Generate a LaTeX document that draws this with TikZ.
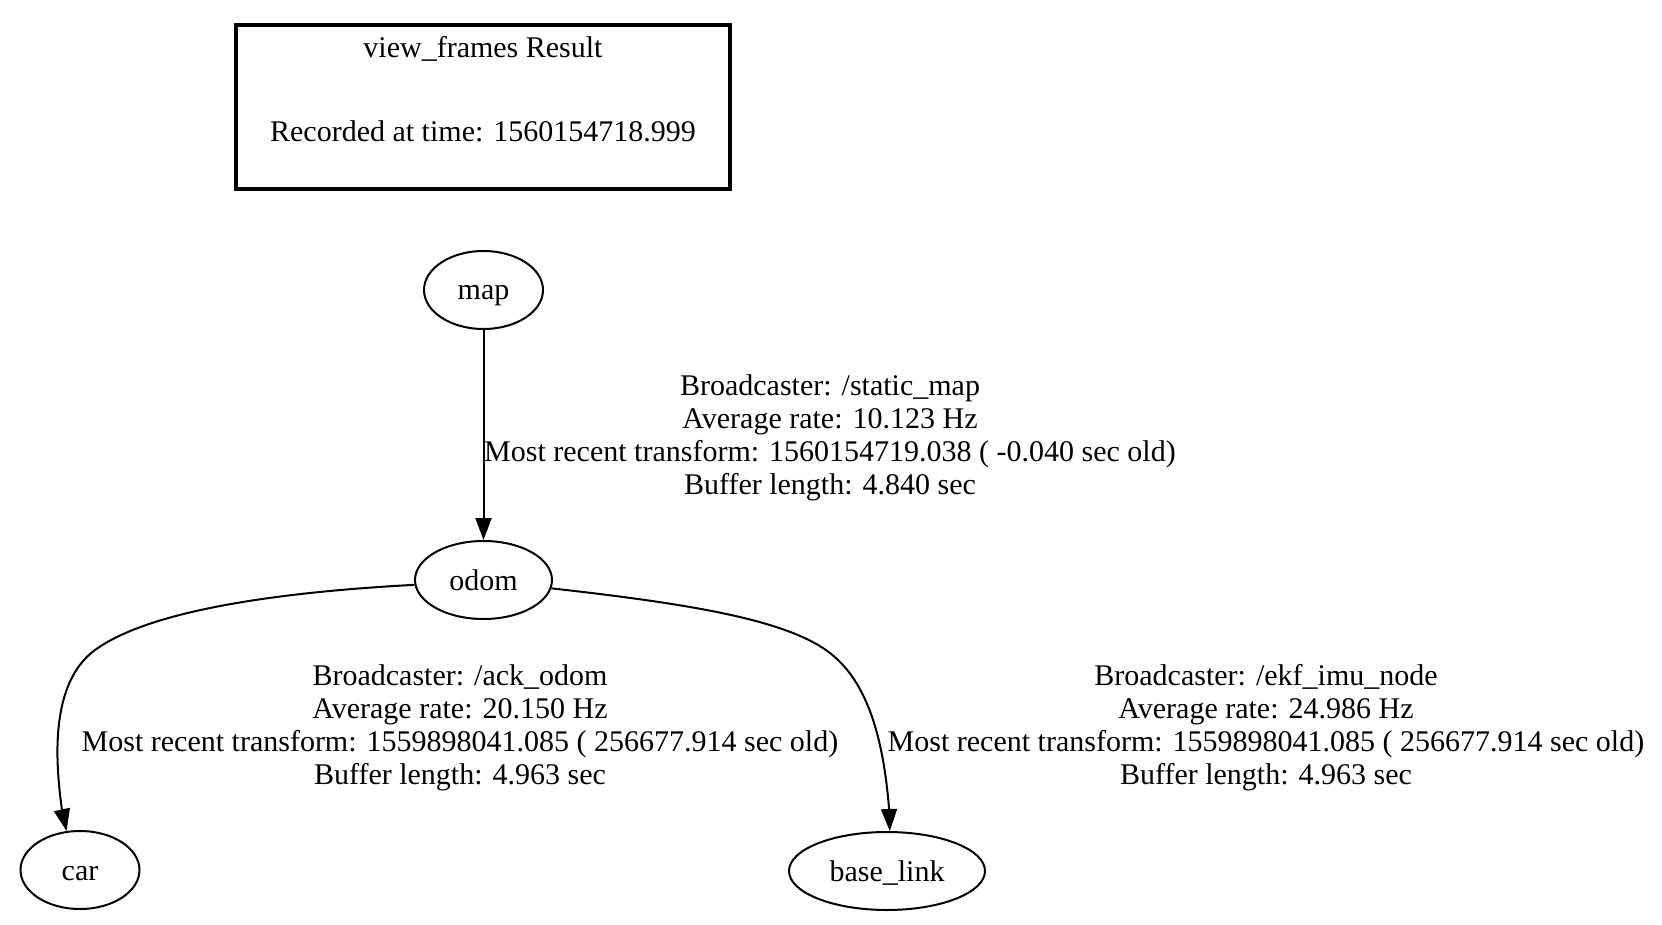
\documentclass[tikz,border=0pt]{standalone}
\usepackage{fontspec}
\setmainfont{Liberation Serif}
\usetikzlibrary{arrows.meta,shapes.geometric}
\begin{document}
\begin{tikzpicture}[x=1pt,y=-1pt,
  every node/.style={font=\fontsize{30}{33}\selectfont},
  frame/.style={draw, ellipse, line width=2pt, minimum height=78pt, inner sep=0pt, text height=22pt, text depth=2pt},
  edge/.style={draw, line width=2pt, -{Triangle[length=22pt,width=16pt]}},
  lbl/.style={align=center, anchor=base, inner sep=0pt},
  txt/.style={anchor=base, inner sep=0pt},
  titlebox/.style={draw, line width=4pt, minimum width=494pt, minimum height=164pt, inner sep=0pt}]
\useasboundingbox (0,0) rectangle (1662,925);
\fill[white] (0,0) rectangle (1662,925);

% title box
\node[titlebox] (title) at (483,107) {};
\node[txt] (t1) at (483,58) {view\_frames Result};
\node[txt] (t2) at (483,142) {Recorded at time: 1560154718.999};

% frames
\node[frame, minimum width=119pt] (map) at (483.5,290) {map};
\node[frame, minimum width=137pt] (odom) at (483.5,580) {odom};
\node[frame, minimum width=119pt] (car) at (80,870) {car};
\node[frame, minimum width=196pt] (base_link) at (887,871) {base\_link};

% edges
\draw[edge] (map) -- (odom);
\draw[edge] (odom.184) .. controls (280,592) and (150,610) .. (95,650)
   .. controls (50,683) and (55,760) .. (62,810) -- (car.109);
\draw[edge] (odom.353) .. controls (700,605) and (800,622) .. (838,660)
   .. controls (875,695) and (885,760) .. (889,808) -- (base_link.86);

% edge labels (base anchor = baseline of the last line)
\node[lbl] (l1) at (830,494) {Broadcaster: /static\_map\\Average rate: 10.123 Hz\\Most recent transform: 1560154719.038 ( -0.040 sec old)\\Buffer length: 4.840 sec};
\node[lbl] (l2) at (460,784) {Broadcaster: /ack\_odom\\Average rate: 20.150 Hz\\Most recent transform: 1559898041.085 ( 256677.914 sec old)\\Buffer length: 4.963 sec};
\node[lbl] (l3) at (1266,784) {Broadcaster: /ekf\_imu\_node\\Average rate: 24.986 Hz\\Most recent transform: 1559898041.085 ( 256677.914 sec old)\\Buffer length: 4.963 sec};
\end{tikzpicture}
\end{document}
